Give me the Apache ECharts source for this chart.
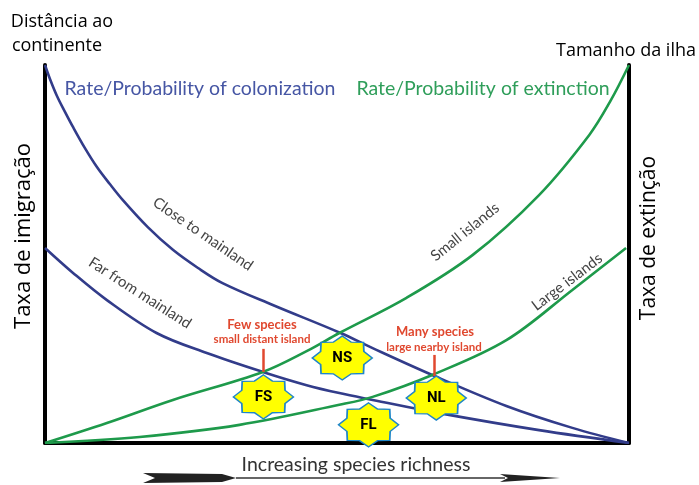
<!DOCTYPE html>
<html>
<head>
<meta charset="utf-8">
<script src="https://cdn.jsdelivr.net/npm/echarts@6/dist/echarts.min.js"></script>
<style>
  html, body { margin: 0; padding: 0; background: #fff; }
  #chart { width: 699px; height: 485px; }
</style>
</head>
<body>
<div id="chart"></div>
<script>
// curves, x = species richness (0-100), y = rate (0-100)
const closeX = [0, 0.85, 2.05, 3.42, 4.79, 6.84, 8.89, 11.1, 13.3, 17.6, 21.9, 26.2, 30.4, 39.0, 50.6, 56.1, 66.3, 79.0, 90.3, 100];
const closeY = [100, 96.3, 91.8, 87.6, 83.6, 78.0, 73.0, 68.5, 64.3, 57.1, 51.1, 46.3, 42.3, 36.5, 29.1, 25.1, 18.0, 9.8, 4.0, 0];
const farX = [0, 4.8, 10.6, 19.1, 27.7, 37.3, 44.8, 50.4, 56.1, 67.5, 84.6, 100];
const farY = [51.6, 45.0, 37.8, 29.1, 23.8, 18.8, 15.3, 13.2, 11.4, 7.9, 3.4, 0];
const smallX = [0, 10.6, 21.9, 37.3, 44.8, 50.4, 61.9, 73.2, 84.6, 93.2, 96.9, 100];
const smallY = [0, 5.3, 11.4, 18.8, 24.3, 29.1, 38.4, 49.7, 65.6, 81.5, 90.7, 100];
const largeX = [0, 16.2, 33.3, 50.4, 56.1, 66.3, 79.0, 90.3, 99.5];
const largeY = [0, 1.6, 4.8, 10.1, 12.2, 18.0, 27.2, 40.5, 51.6];

// equilibrium stars
const starNames = ['NS', 'FS', 'NL', 'FL'];
const starX = [50.9, 37.4, 67.0, 55.4];
const starY = [22.5, 12.2, 11.9, 4.8];

// red pointer ticks (from crossing upwards)
const tickX = [37.4, 66.7];
const tickY0 = [18.8, 17.7];
const tickY1 = [24.9, 23.3];

const pair = (xs, ys) => xs.map((x, i) => [x, ys[i]]);

// 8-pointed star path
let starPath = 'path://';
for (let i = 0; i < 16; i++) {
  const a = (-90 + i * 22.5) * Math.PI / 180;
  const r = i % 2 === 0 ? 50 : 39;
  starPath += (i === 0 ? 'M' : 'L') + (50 + r * Math.cos(a)).toFixed(2) + ',' + (50 + r * Math.sin(a)).toFixed(2);
}
starPath += 'Z';

const BLUE = '#323c8a';
const GREEN = '#1e9a4b';
const RED = '#e0482f';
const FONT_EN = 'Lato, "Open Sans", sans-serif';
const FONT_PT = '"Open Sans", "Noto Sans", sans-serif';

const myChart = echarts.init(document.getElementById('chart'));

function curve(name, data, color) {
  return {
    name: name,
    type: 'line',
    data: data,
    smooth: 0.35,
    showSymbol: false,
    lineStyle: { color: color, width: 2.6 },
    z: 3
  };
}

function txt(x, y, text, font, fill, rot) {
  return {
    type: 'text', x: x, y: y, rotation: rot || 0, z: 50,
    style: { text: text, font: font, fill: fill, align: 'center', verticalAlign: 'middle' }
  };
}

let option = {
  animation: false,
  grid: { left: 45, right: 70, top: 65, bottom: 42 },
  xAxis: {
    type: 'value', min: 0, max: 100,
    axisLine: { show: true, lineStyle: { color: '#000', width: 4 } },
    axisTick: { show: false }, axisLabel: { show: false }, splitLine: { show: false }
  },
  yAxis: [
    {
      type: 'value', min: 0, max: 100, position: 'left',
      axisLine: { show: true, lineStyle: { color: '#000', width: 4 } },
      axisTick: { show: false }, axisLabel: { show: false }, splitLine: { show: false }
    },
    {
      type: 'value', min: 0, max: 100, position: 'right',
      axisLine: { show: true, lineStyle: { color: '#000', width: 4 } },
      axisTick: { show: false }, axisLabel: { show: false }, splitLine: { show: false }
    }
  ],
  series: [
    curve('Close to mainland', pair(closeX, closeY), BLUE),
    curve('Far from mainland', pair(farX, farY), BLUE),
    curve('Small islands', pair(smallX, smallY), GREEN),
    curve('Large islands', pair(largeX, largeY), GREEN),
    {
      type: 'line',
      data: [],
      markLine: {
        silent: true,
        symbol: 'none',
        label: { show: false },
        lineStyle: { color: RED, width: 2.5, type: 'solid' },
        data: tickX.map((x, i) => [{ coord: [x, tickY0[i]] }, { coord: [x, tickY1[i]] }])
      }
    },
    {
      type: 'scatter',
      symbol: starPath,
      symbolSize: [60, 44],
      itemStyle: { color: '#ffff00', borderColor: '#1f86c8', borderWidth: 1.5, opacity: 1 },
      label: {
        show: true, position: 'inside', color: '#000',
        fontFamily: 'Roboto, sans-serif', fontWeight: 'bold', fontSize: 15,
        formatter: p => starNames[p.dataIndex]
      },
      data: pair(starX, starY),
      z: 10
    }
  ],
  graphic: [
    txt(62, 22, 'Distância ao', '18px ' + FONT_PT, '#000'),
    txt(57, 46, 'continente', '18px ' + FONT_PT, '#000'),
    txt(626, 51, 'Tamanho da ilha', '18px ' + FONT_PT, '#000'),
    txt(24, 236, 'Taxa de imigração', '22px ' + FONT_PT, '#000', Math.PI / 2),
    txt(649, 238, 'Taxa de extinção', '21px ' + FONT_PT, '#000', Math.PI / 2),
    txt(200, 89, 'Rate/Probability of colonization', '19.5px ' + FONT_EN, '#4656a4'),
    txt(483, 89, 'Rate/Probability of extinction', '19.5px ' + FONT_EN, '#2f9e5a'),
    txt(203, 234, 'Close to mainland', '15px ' + FONT_EN, '#444', -0.60),
    txt(140, 293, 'Far from mainland', '15px ' + FONT_EN, '#444', -0.57),
    txt(465, 232, 'Small islands', '15px ' + FONT_EN, '#444', 0.68),
    txt(567, 282, 'Large islands', '15px ' + FONT_EN, '#444', 0.65),
    txt(262, 325, 'Few species', 'bold 13px ' + FONT_EN, RED),
    txt(262, 339, 'small distant island', 'bold 11.5px ' + FONT_EN, RED),
    txt(435, 332, 'Many species', 'bold 13px ' + FONT_EN, RED),
    txt(434, 347, 'large nearby island', 'bold 11.5px ' + FONT_EN, RED),
    txt(356, 465, 'Increasing species richness', '19.5px ' + FONT_EN, '#333'),
    // bottom arrow
    {
      type: 'polygon', z: 50,
      shape: { points: [[143, 473], [222, 474], [236, 478], [222, 482], [143, 483], [155, 478]] },
      style: { fill: '#222' }
    },
    {
      type: 'line', z: 50,
      shape: { x1: 236, y1: 478, x2: 505, y2: 478 },
      style: { stroke: '#333', lineWidth: 1.5 }
    },
    {
      type: 'polygon', z: 50,
      shape: { points: [[500, 474], [560, 478], [500, 482], [508, 478]] },
      style: { fill: '#222' }
    }
  ]
};

myChart.setOption(option);
window.onresize = myChart.resize;
</script>
</body>
</html>
